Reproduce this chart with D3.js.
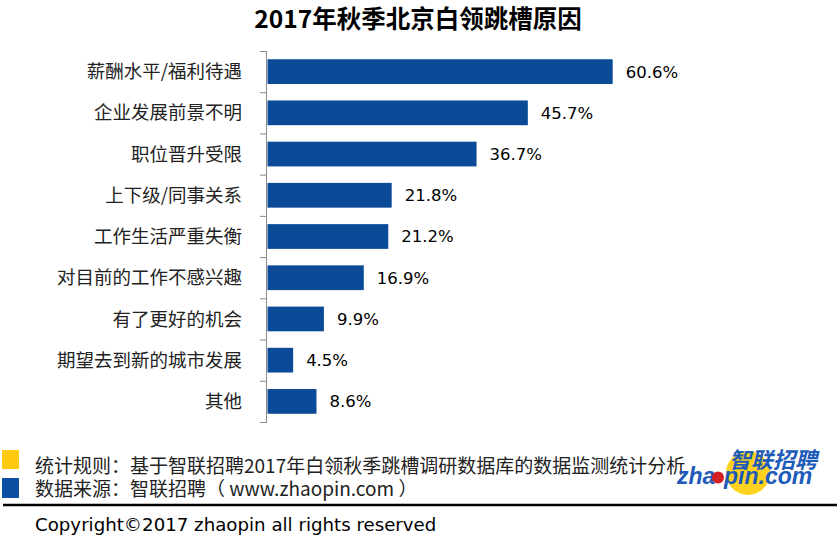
<!DOCTYPE html>
<html><head><meta charset="utf-8">
<script src="https://cdn.jsdelivr.net/npm/d3@7"></script>
<style>
html,body{margin:0;padding:0;background:#fff;}
svg{display:block;}
</style></head>
<body>
<svg id="chart" width="837" height="536"></svg>
<script>
const title = "2017年秋季北京白领跳槽原因";
const categories = ["薪酬水平/福利待遇","企业发展前景不明","职位晋升受限","上下级/同事关系","工作生活严重失衡","对目前的工作不感兴趣","有了更好的机会","期望去到新的城市发展","其他"];
const values = [60.6, 45.7, 36.7, 21.8, 21.2, 16.9, 9.9, 4.5, 8.6];
const notes = ["统计规则：基于智联招聘2017年白领秋季跳槽调研数据库的数据监测统计分析", "数据来源：智联招聘（ www.zhaopin.com ）"];
const copyright = "Copyright©2017 zhaopin all rights reserved";

const svg = d3.select("#chart");
const CJK = "'Noto Sans CJK SC','Noto Sans',sans-serif";
const LAT = "'DejaVu Sans','Noto Sans CJK SC',sans-serif";
const barColor = "#0B4A97";

svg.append("text").attr("x", 418).attr("y", 28).attr("text-anchor", "middle")
  .attr("font-family", CJK).attr("font-weight", "bold").attr("font-size", 24.5)
  .attr("fill", "#000").text(title);

const x = d3.scaleLinear().domain([0, 60.6]).range([267.5, 612.7]);
const y = d3.scaleBand().domain(categories).range([51, 422]).paddingInner(0.4).paddingOuter(0.2);

const g = svg.append("g");
g.selectAll("rect.bar").data(values).join("rect").attr("class", "bar")
  .attr("x", x(0)).attr("y", (d, i) => y(categories[i]))
  .attr("width", d => x(d) - x(0)).attr("height", y.bandwidth())
  .attr("fill", barColor);

g.selectAll("text.val").data(values).join("text").attr("class", "val")
  .attr("x", d => x(d) + 13).attr("y", (d, i) => y(categories[i]) + y.bandwidth() / 2)
  .attr("dy", "0.36em").attr("font-family", LAT).attr("font-size", 16.5)
  .attr("fill", "#000").text(d => d.toFixed(1) + "%");

// axis
const step = y.step();
const y0 = y.range()[0];
g.append("line").attr("x1", 266.5).attr("x2", 266.5).attr("y1", y0).attr("y2", y.range()[1])
  .attr("stroke", "#8a8a8a").attr("stroke-width", 1);
g.selectAll("line.tick").data(d3.range(categories.length + 1)).join("line").attr("class", "tick")
  .attr("x1", 260).attr("x2", 267).attr("y1", i => y0 + i * step + 0.5).attr("y2", i => y0 + i * step + 0.5)
  .attr("stroke", "#8a8a8a").attr("stroke-width", 1);

g.selectAll("text.cat").data(categories).join("text").attr("class", "cat")
  .attr("x", 242).attr("y", d => y(d) + y.bandwidth() / 2).attr("dy", "0.36em")
  .attr("text-anchor", "end").attr("font-family", CJK).attr("font-size", 18.5)
  .attr("fill", "#222").text(d => d);

// footer legend squares
svg.append("rect").attr("x", 2).attr("y", 450).attr("width", 17).attr("height", 19).attr("fill", "#FFC90E");
svg.append("rect").attr("x", 2).attr("y", 478).attr("width", 17).attr("height", 20).attr("fill", "#0B4EA2");
svg.append("text").attr("x", 35).attr("y", 473).attr("font-family", CJK).attr("font-size", 19)
  .attr("fill", "#222").text(notes[0]);
svg.append("text").attr("x", 35).attr("y", 496).attr("font-family", CJK).attr("font-size", 19)
  .attr("fill", "#222").text(notes[1]);

svg.append("line").attr("x1", 3).attr("x2", 837).attr("y1", 505).attr("y2", 505)
  .attr("stroke", "#000").attr("stroke-width", 2.5);

svg.append("text").attr("x", 35).attr("y", 531).attr("font-family", LAT).attr("font-size", 18.2)
  .attr("fill", "#000").text(copyright);

// logo
const logo = svg.append("g");
logo.append("circle").attr("cx", 748).attr("cy", 473).attr("r", 22).attr("fill", "#FFD21F");
logo.append("text").attr("x", 817).attr("y", 468).attr("text-anchor", "end")
  .attr("font-family", CJK).attr("font-weight", "bold").attr("font-style", "italic")
  .attr("font-size", 22).attr("fill", "#1E5BB8").text("智联招聘");
logo.append("text").attr("x", 677).attr("y", 484)
  .attr("font-family", "'Liberation Sans',Arial,sans-serif").attr("font-weight", "bold").attr("font-style", "italic")
  .attr("font-size", 23).attr("fill", "#1E5BB8").text("zha");
logo.append("circle").attr("cx", 718).attr("cy", 477.5).attr("r", 6).attr("fill", "#D42020");
logo.append("text").attr("x", 724).attr("y", 484)
  .attr("font-family", "'Liberation Sans',Arial,sans-serif").attr("font-weight", "bold").attr("font-style", "italic")
  .attr("font-size", 23).attr("fill", "#1E5BB8").text("pin.com");
</script>
</body></html>
